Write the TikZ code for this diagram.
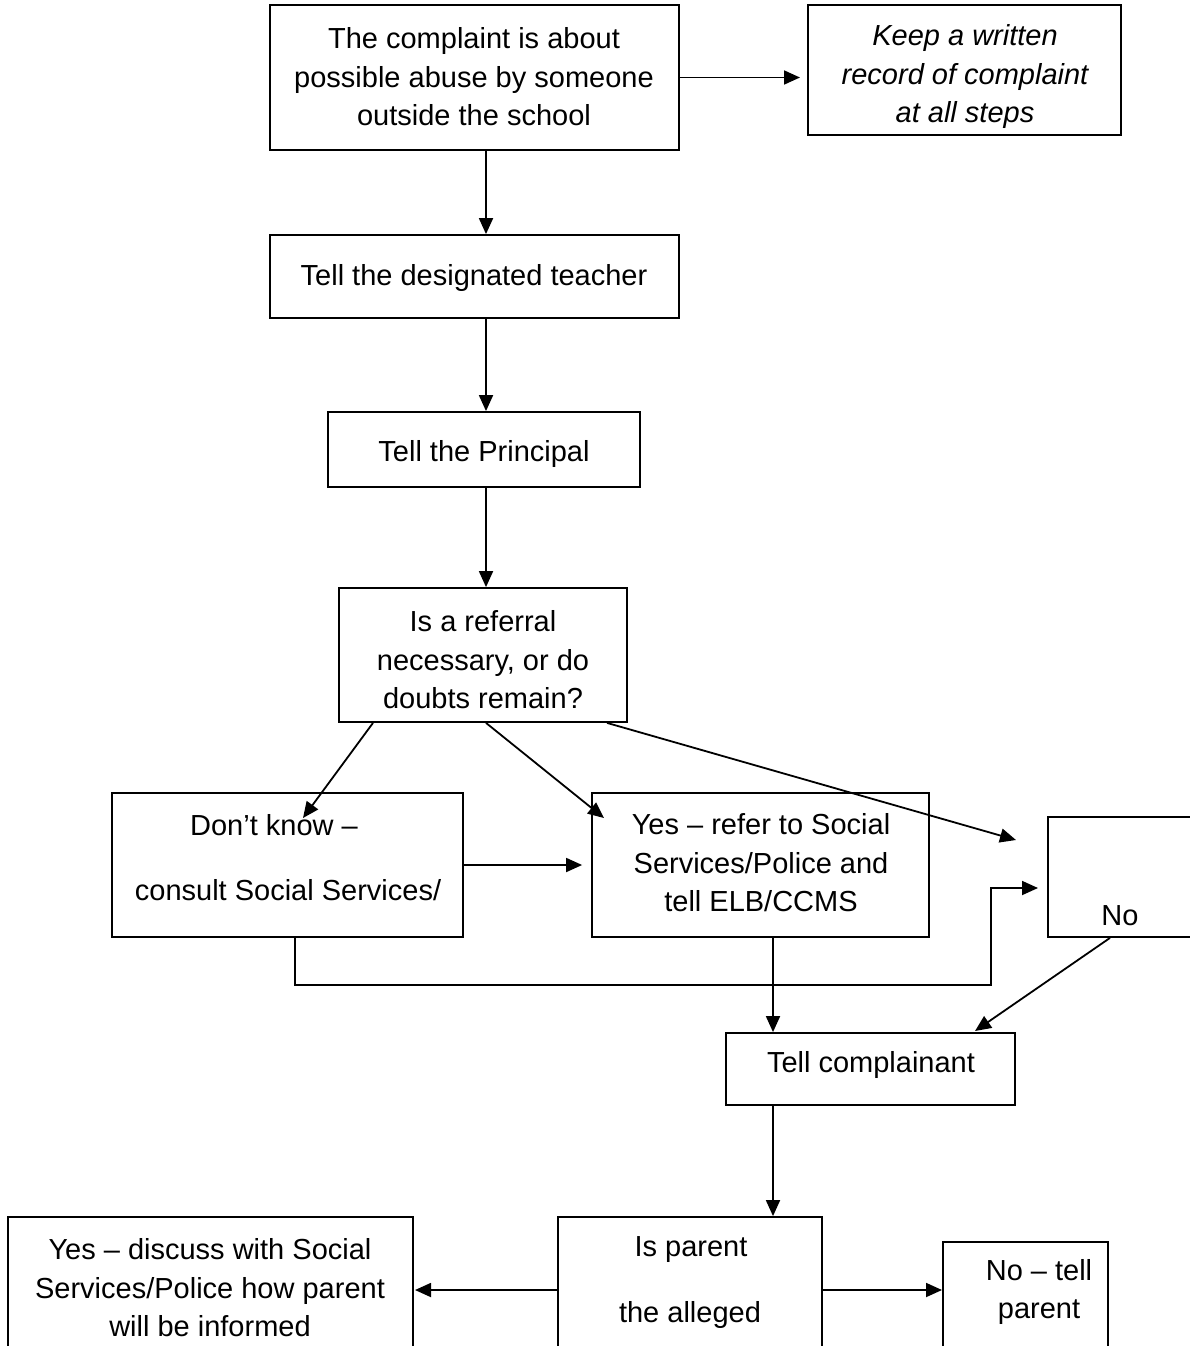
\documentclass[tikz,border=0pt]{standalone}
\usepackage{fontspec}
\setmainfont{Liberation Sans}
\usetikzlibrary{arrows.meta}
\begin{document}
\begin{tikzpicture}[x=1pt,y=-1pt,
  box/.style={draw, line width=1.8pt, inner sep=0pt, minimum width=#1},
  txt/.style={font=\fontsize{29}{38.5}\selectfont, align=center, inner sep=0pt, yshift=-3pt},
  arr/.style={line width=1.8pt, -{Triangle[length=16pt,width=14pt]}},
  ln/.style={line width=1.8pt}]
\useasboundingbox (0,0) rectangle (1190,1346);
\clip (0,0) rectangle (1190,1346);
% boxes
\node[box=409pt, minimum height=145pt] (b1) at (474.5,77.5) {};
\node[box=313pt, minimum height=130pt] (keep) at (964.5,70) {};
\node[box=409pt, minimum height=83pt] (b2) at (474.5,276.5) {};
\node[box=312pt, minimum height=75pt] (b3) at (484,449.5) {};
\node[box=288pt, minimum height=134pt] (b4) at (483,655) {};
\node[box=351pt, minimum height=144pt] (dk) at (287.5,865) {};
\node[box=337pt, minimum height=144pt] (yes) at (760.5,865) {};
\node[box=160pt, minimum height=120pt] (no) at (1128,877) {};
\node[box=289pt, minimum height=72pt] (tc) at (870.5,1069) {};
\node[box=264pt, minimum height=160pt] (ip) at (690,1297) {};
\node[box=405pt, minimum height=160pt] (yd) at (210.5,1297) {};
\node[box=165pt, minimum height=140pt] (nt) at (1025.5,1312) {};
% texts
\node[txt] (t1) at (474,74) {The complaint is about\\possible abuse by someone\\outside the school};
\node[txt, font=\fontsize{29}{38.5}\selectfont\itshape] (tk) at (965,74) {Keep a written\\record of complaint\\at all steps};
\node[txt] (t2) at (474,275) {Tell the designated teacher};
\node[txt] (t3) at (484,451) {Tell the Principal};
\node[txt] (t4) at (483,657) {Is a referral\\necessary, or do\\doubts remain?};
\node[txt] (tdk1) at (274,822) {Don’t know –};
\node[txt] (tdk2) at (288,887) {consult Social Services/};
\node[txt] (tyes) at (761,860) {Yes – refer to Social\\Services/Police and\\tell ELB/CCMS};
\node[txt] (tno) at (1120,913) {No};
\node[txt] (ttc) at (871,1062) {Tell complainant};
\node[txt] (tip1) at (691,1247) {Is parent};
\node[txt] (tip2) at (690,1312) {the alleged};
\node[txt] (tyd) at (210,1285) {Yes – discuss with Social\\Services/Police how parent\\will be informed};
\node[txt] (tnt) at (1039,1289) {No – tell\\parent};
% coordinates for free ends
\coordinate (keepin) at (800,77.5);
\coordinate (dkin) at (303,818);
\coordinate (yesin) at (604,818);
\coordinate (noin) at (1016,840);
\coordinate (noin2) at (1038,888);
\coordinate (ydin) at (415,1290);
\coordinate (ntin) at (942,1290);
% connectors
\draw[arr] (b1.east) -- (keepin);
\draw[arr] (b1.south -| 486,0) -- (b2.north -| 486,0);
\draw[arr] (b2.south -| 486,0) -- (b3.north -| 486,0);
\draw[arr] (b3.south -| 486,0) -- (b4.north -| 486,0);
\draw[arr] (b4.south -| 373,0) -- (dkin);
\draw[arr] (b4.south -| 486,0) -- (yesin);
\draw[arr] (b4.south -| 607,0) -- (noin);
\draw[arr] (dk.east) -- ([xshift=-9pt]yes.west);
\draw[arr] (dk.south -| 295,0) -- (295,985) -- (991,985) -- (991,888) -- (noin2);
\draw[arr] (yes.south -| 773,0) -- (tc.north -| 773,0);
\draw[arr] (no.south -| 1110,0) -- (975,1031);
\draw[arr] (tc.south -| 773,0) -- (ip.north -| 773,0);
\draw[arr] (ip.west |- 0,1290) -- (ydin);
\draw[arr] (ip.east |- 0,1290) -- (ntin);
\end{tikzpicture}
\end{document}
